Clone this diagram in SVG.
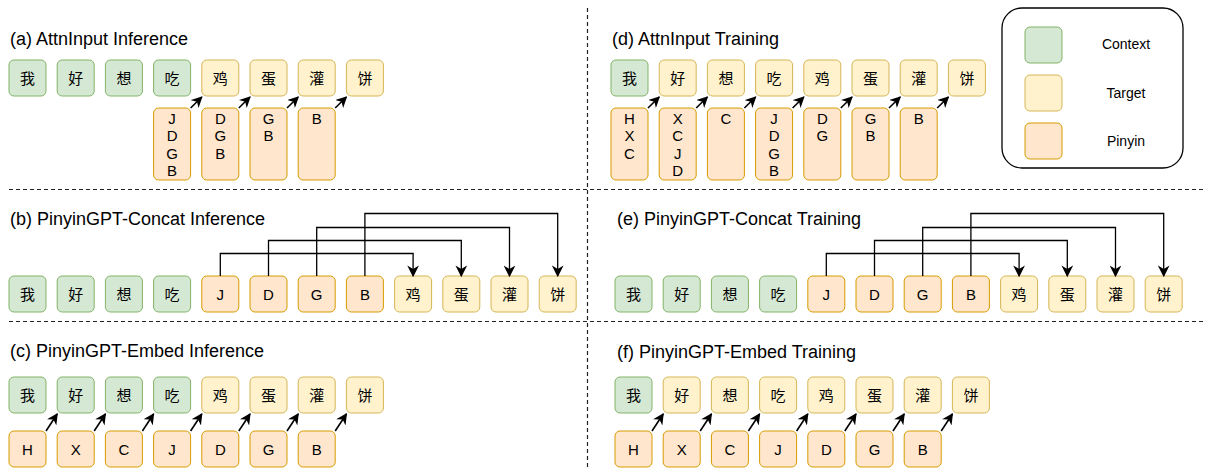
<svg xmlns="http://www.w3.org/2000/svg" width="1208" height="468" viewBox="0 0 1208 468">
  <style>
    .ctx { fill: #d5e8d4; stroke: #82b366; stroke-width: 1; }
    .tgt { fill: #fff2cc; stroke: #d6b656; stroke-width: 1; }
    .py  { fill: #ffe6cc; stroke: #d79b00; stroke-width: 1; }
    .zh  { font-family: "Noto Sans CJK SC", sans-serif; font-size: 15px; fill: #000; text-anchor: middle; }
    .lt  { font-family: "Liberation Sans", Arial, sans-serif; font-size: 15px; fill: #000; text-anchor: middle; }
    .title { font-family: "Liberation Sans", Arial, sans-serif; font-size: 18px; fill: #000; }
    .leg { font-family: "Liberation Sans", Arial, sans-serif; font-size: 14px; fill: #000; text-anchor: middle; }
    .sep { stroke: #222; stroke-width: 1.2; stroke-dasharray: 4 3; fill: none; }
    .arr { stroke: #000; stroke-width: 1.6; fill: none; marker-end: url(#head); }
    .link { stroke: #000; stroke-width: 1.3; fill: none; marker-end: url(#head2); }
  </style>
  <defs>
    <marker id="head" viewBox="0 0 10 10" refX="9" refY="5" markerWidth="7" markerHeight="7" orient="auto" markerUnits="strokeWidth">
      <path d="M0,0 L10,5 L0,10 L3,5 Z" fill="#000"/>
    </marker>
    <marker id="head2" viewBox="0 0 10 10" refX="9" refY="5" markerWidth="9" markerHeight="9" orient="auto" markerUnits="strokeWidth">
      <path d="M0,0 L10,5 L0,10 L3,5 Z" fill="#000"/>
    </marker>
  </defs>

  <rect width="1208" height="468" fill="#fff"/>

  <!-- section separators -->
  <g id="separators">
    <line class="sep" x1="587.5" y1="8" x2="587.5" y2="468"/>
    <line class="sep" x1="9" y1="189.5" x2="1205" y2="189.5"/>
    <line class="sep" x1="9" y1="321.5" x2="1205" y2="321.5"/>
  </g>

  <!-- legend -->
  <g id="legend">
    <rect x="1002" y="8" width="181" height="160" rx="20" fill="#fff" stroke="#000" stroke-width="1.3"/>
    <rect class="ctx" x="1025" y="27" width="37" height="36" rx="5"/>
    <rect class="tgt" x="1025" y="75" width="37" height="36" rx="5"/>
    <rect class="py" x="1025" y="123" width="37" height="36" rx="5"/>
    <text class="leg" x="1126" y="49">Context</text>
    <text class="leg" x="1126" y="98">Target</text>
    <text class="leg" x="1126" y="146">Pinyin</text>
  </g>

  <!-- (a) AttnInput Inference -->
  <g id="panel-a">
    <text class="title" x="10" y="45">(a) AttnInput Inference</text>
    <g id="a-ctx">
      <rect class="ctx" x="9" y="60" width="37" height="36" rx="5"/><text class="zh" x="27.5" y="83.5">我</text>
      <rect class="ctx" x="57.2" y="60" width="37" height="36" rx="5"/><text class="zh" x="75.7" y="83.5">好</text>
      <rect class="ctx" x="105.4" y="60" width="37" height="36" rx="5"/><text class="zh" x="123.9" y="83.5">想</text>
      <rect class="ctx" x="153.6" y="60" width="37" height="36" rx="5"/><text class="zh" x="172.1" y="83.5">吃</text>
    </g>
    <g id="a-tgt">
      <rect class="tgt" x="201.8" y="60" width="37" height="36" rx="5"/><text class="zh" x="220.3" y="83.5">鸡</text>
      <rect class="tgt" x="250" y="60" width="37" height="36" rx="5"/><text class="zh" x="268.5" y="83.5">蛋</text>
      <rect class="tgt" x="298.2" y="60" width="37" height="36" rx="5"/><text class="zh" x="316.7" y="83.5">灌</text>
      <rect class="tgt" x="346.4" y="60" width="37" height="36" rx="5"/><text class="zh" x="364.9" y="83.5">饼</text>
    </g>
    <g id="a-py">
      <rect class="py" x="153.6" y="108" width="37" height="72" rx="5"/>
      <text class="lt" x="172.1" y="124">J</text><text class="lt" x="172.1" y="141">D</text><text class="lt" x="172.1" y="159">G</text><text class="lt" x="172.1" y="176">B</text>
      <rect class="py" x="201.8" y="108" width="37" height="72" rx="5"/>
      <text class="lt" x="220.3" y="124">D</text><text class="lt" x="220.3" y="141">G</text><text class="lt" x="220.3" y="159">B</text>
      <rect class="py" x="250" y="108" width="37" height="72" rx="5"/>
      <text class="lt" x="268.5" y="124">G</text><text class="lt" x="268.5" y="141">B</text>
      <rect class="py" x="298.2" y="108" width="37" height="72" rx="5"/>
      <text class="lt" x="316.7" y="124">B</text>
    </g>
  </g>

  <!-- (d) AttnInput Training -->
  <g id="panel-d">
    <text class="title" x="612" y="45">(d) AttnInput Training</text>
    <rect class="ctx" x="611" y="60" width="37" height="36" rx="5"/><text class="zh" x="629.5" y="83.5">我</text>
    <rect class="tgt" x="659.2" y="60" width="37" height="36" rx="5"/><text class="zh" x="677.7" y="83.5">好</text>
    <rect class="tgt" x="707.4" y="60" width="37" height="36" rx="5"/><text class="zh" x="725.9" y="83.5">想</text>
    <rect class="tgt" x="755.6" y="60" width="37" height="36" rx="5"/><text class="zh" x="774.1" y="83.5">吃</text>
    <rect class="tgt" x="803.8" y="60" width="37" height="36" rx="5"/><text class="zh" x="822.3" y="83.5">鸡</text>
    <rect class="tgt" x="852" y="60" width="37" height="36" rx="5"/><text class="zh" x="870.5" y="83.5">蛋</text>
    <rect class="tgt" x="900.2" y="60" width="37" height="36" rx="5"/><text class="zh" x="918.7" y="83.5">灌</text>
    <rect class="tgt" x="948.4" y="60" width="37" height="36" rx="5"/><text class="zh" x="966.9" y="83.5">饼</text>

    <rect class="py" x="611" y="108" width="37" height="72" rx="5"/>
    <text class="lt" x="629.5" y="124">H</text><text class="lt" x="629.5" y="141">X</text><text class="lt" x="629.5" y="159">C</text>
    <rect class="py" x="659.2" y="108" width="37" height="72" rx="5"/>
    <text class="lt" x="677.7" y="124">X</text><text class="lt" x="677.7" y="141">C</text><text class="lt" x="677.7" y="159">J</text><text class="lt" x="677.7" y="176">D</text>
    <rect class="py" x="707.4" y="108" width="37" height="72" rx="5"/>
    <text class="lt" x="725.9" y="124">C</text>
    <rect class="py" x="755.6" y="108" width="37" height="72" rx="5"/>
    <text class="lt" x="774.1" y="124">J</text><text class="lt" x="774.1" y="141">D</text><text class="lt" x="774.1" y="159">G</text><text class="lt" x="774.1" y="176">B</text>
    <rect class="py" x="803.8" y="108" width="37" height="72" rx="5"/>
    <text class="lt" x="822.3" y="124">D</text><text class="lt" x="822.3" y="141">G</text>
    <rect class="py" x="852" y="108" width="37" height="72" rx="5"/>
    <text class="lt" x="870.5" y="124">G</text><text class="lt" x="870.5" y="141">B</text>
    <rect class="py" x="900.2" y="108" width="37" height="72" rx="5"/>
    <text class="lt" x="918.7" y="124">B</text>
  </g>

  <!-- (b) PinyinGPT-Concat Inference -->
  <g id="panel-b">
    <text class="title" x="10" y="225">(b) PinyinGPT-Concat Inference</text>
    <rect class="ctx" x="9" y="276" width="37" height="36" rx="5"/><text class="zh" x="27.5" y="299.5">我</text>
    <rect class="ctx" x="57.2" y="276" width="37" height="36" rx="5"/><text class="zh" x="75.7" y="299.5">好</text>
    <rect class="ctx" x="105.4" y="276" width="37" height="36" rx="5"/><text class="zh" x="123.9" y="299.5">想</text>
    <rect class="ctx" x="153.6" y="276" width="37" height="36" rx="5"/><text class="zh" x="172.1" y="299.5">吃</text>
    <rect class="py" x="201.8" y="276" width="37" height="36" rx="5"/><text class="lt" x="220.3" y="299.5">J</text>
    <rect class="py" x="250" y="276" width="37" height="36" rx="5"/><text class="lt" x="268.5" y="299.5">D</text>
    <rect class="py" x="298.2" y="276" width="37" height="36" rx="5"/><text class="lt" x="316.7" y="299.5">G</text>
    <rect class="py" x="346.4" y="276" width="37" height="36" rx="5"/><text class="lt" x="364.9" y="299.5">B</text>
    <rect class="tgt" x="394.6" y="276" width="37" height="36" rx="5"/><text class="zh" x="413.1" y="299.5">鸡</text>
    <rect class="tgt" x="442.8" y="276" width="37" height="36" rx="5"/><text class="zh" x="461.3" y="299.5">蛋</text>
    <rect class="tgt" x="491" y="276" width="37" height="36" rx="5"/><text class="zh" x="509.5" y="299.5">灌</text>
    <rect class="tgt" x="539.2" y="276" width="37" height="36" rx="5"/><text class="zh" x="557.7" y="299.5">饼</text>
  </g>

  <!-- (e) PinyinGPT-Concat Training -->
  <g id="panel-e">
    <text class="title" x="617" y="225">(e) PinyinGPT-Concat Training</text>
    <rect class="ctx" x="615" y="276" width="37" height="36" rx="5"/><text class="zh" x="633.5" y="299.5">我</text>
    <rect class="ctx" x="663.2" y="276" width="37" height="36" rx="5"/><text class="zh" x="681.7" y="299.5">好</text>
    <rect class="ctx" x="711.4" y="276" width="37" height="36" rx="5"/><text class="zh" x="729.9" y="299.5">想</text>
    <rect class="ctx" x="759.6" y="276" width="37" height="36" rx="5"/><text class="zh" x="778.1" y="299.5">吃</text>
    <rect class="py" x="807.8" y="276" width="37" height="36" rx="5"/><text class="lt" x="826.3" y="299.5">J</text>
    <rect class="py" x="856" y="276" width="37" height="36" rx="5"/><text class="lt" x="874.5" y="299.5">D</text>
    <rect class="py" x="904.2" y="276" width="37" height="36" rx="5"/><text class="lt" x="922.7" y="299.5">G</text>
    <rect class="py" x="952.4" y="276" width="37" height="36" rx="5"/><text class="lt" x="970.9" y="299.5">B</text>
    <rect class="tgt" x="1000.6" y="276" width="37" height="36" rx="5"/><text class="zh" x="1019.1" y="299.5">鸡</text>
    <rect class="tgt" x="1048.8" y="276" width="37" height="36" rx="5"/><text class="zh" x="1067.3" y="299.5">蛋</text>
    <rect class="tgt" x="1097" y="276" width="37" height="36" rx="5"/><text class="zh" x="1115.5" y="299.5">灌</text>
    <rect class="tgt" x="1145.2" y="276" width="37" height="36" rx="5"/><text class="zh" x="1163.7" y="299.5">饼</text>
  </g>

  <!-- (c) PinyinGPT-Embed Inference -->
  <g id="panel-c">
    <text class="title" x="10" y="357">(c) PinyinGPT-Embed Inference</text>
    <rect class="ctx" x="9" y="377" width="37" height="36" rx="5"/><text class="zh" x="27.5" y="400.5">我</text>
    <rect class="ctx" x="57.2" y="377" width="37" height="36" rx="5"/><text class="zh" x="75.7" y="400.5">好</text>
    <rect class="ctx" x="105.4" y="377" width="37" height="36" rx="5"/><text class="zh" x="123.9" y="400.5">想</text>
    <rect class="ctx" x="153.6" y="377" width="37" height="36" rx="5"/><text class="zh" x="172.1" y="400.5">吃</text>
    <rect class="tgt" x="201.8" y="377" width="37" height="36" rx="5"/><text class="zh" x="220.3" y="400.5">鸡</text>
    <rect class="tgt" x="250" y="377" width="37" height="36" rx="5"/><text class="zh" x="268.5" y="400.5">蛋</text>
    <rect class="tgt" x="298.2" y="377" width="37" height="36" rx="5"/><text class="zh" x="316.7" y="400.5">灌</text>
    <rect class="tgt" x="346.4" y="377" width="37" height="36" rx="5"/><text class="zh" x="364.9" y="400.5">饼</text>
    <rect class="py" x="9" y="431" width="37" height="36" rx="5"/><text class="lt" x="27.5" y="454.5">H</text>
    <rect class="py" x="57.2" y="431" width="37" height="36" rx="5"/><text class="lt" x="75.7" y="454.5">X</text>
    <rect class="py" x="105.4" y="431" width="37" height="36" rx="5"/><text class="lt" x="123.9" y="454.5">C</text>
    <rect class="py" x="153.6" y="431" width="37" height="36" rx="5"/><text class="lt" x="172.1" y="454.5">J</text>
    <rect class="py" x="201.8" y="431" width="37" height="36" rx="5"/><text class="lt" x="220.3" y="454.5">D</text>
    <rect class="py" x="250" y="431" width="37" height="36" rx="5"/><text class="lt" x="268.5" y="454.5">G</text>
    <rect class="py" x="298.2" y="431" width="37" height="36" rx="5"/><text class="lt" x="316.7" y="454.5">B</text>
  </g>

  <!-- (f) PinyinGPT-Embed Training -->
  <g id="panel-f">
    <text class="title" x="617" y="358">(f) PinyinGPT-Embed Training</text>
    <rect class="ctx" x="615" y="377" width="37" height="36" rx="5"/><text class="zh" x="633.5" y="400.5">我</text>
    <rect class="tgt" x="663.2" y="377" width="37" height="36" rx="5"/><text class="zh" x="681.7" y="400.5">好</text>
    <rect class="tgt" x="711.4" y="377" width="37" height="36" rx="5"/><text class="zh" x="729.9" y="400.5">想</text>
    <rect class="tgt" x="759.6" y="377" width="37" height="36" rx="5"/><text class="zh" x="778.1" y="400.5">吃</text>
    <rect class="tgt" x="807.8" y="377" width="37" height="36" rx="5"/><text class="zh" x="826.3" y="400.5">鸡</text>
    <rect class="tgt" x="856" y="377" width="37" height="36" rx="5"/><text class="zh" x="874.5" y="400.5">蛋</text>
    <rect class="tgt" x="904.2" y="377" width="37" height="36" rx="5"/><text class="zh" x="922.7" y="400.5">灌</text>
    <rect class="tgt" x="952.4" y="377" width="37" height="36" rx="5"/><text class="zh" x="970.9" y="400.5">饼</text>
    <rect class="py" x="615" y="431" width="37" height="36" rx="5"/><text class="lt" x="633.5" y="454.5">H</text>
    <rect class="py" x="663.2" y="431" width="37" height="36" rx="5"/><text class="lt" x="681.7" y="454.5">X</text>
    <rect class="py" x="711.4" y="431" width="37" height="36" rx="5"/><text class="lt" x="729.9" y="454.5">C</text>
    <rect class="py" x="759.6" y="431" width="37" height="36" rx="5"/><text class="lt" x="778.1" y="454.5">J</text>
    <rect class="py" x="807.8" y="431" width="37" height="36" rx="5"/><text class="lt" x="826.3" y="454.5">D</text>
    <rect class="py" x="856" y="431" width="37" height="36" rx="5"/><text class="lt" x="874.5" y="454.5">G</text>
    <rect class="py" x="904.2" y="431" width="37" height="36" rx="5"/><text class="lt" x="922.7" y="454.5">B</text>
  </g>

  <!-- connectors -->
  <g id="connectors">
    <!-- (a) pinyin column -> next target -->
    <line class="arr" x1="190.6" y1="108" x2="201.8" y2="97"/>
    <line class="arr" x1="238.8" y1="108" x2="250" y2="97"/>
    <line class="arr" x1="287" y1="108" x2="298.2" y2="97"/>
    <line class="arr" x1="335.2" y1="108" x2="346.4" y2="97"/>
    <!-- (d) -->
    <line class="arr" x1="648" y1="108" x2="659.2" y2="97"/>
    <line class="arr" x1="696.2" y1="108" x2="707.4" y2="97"/>
    <line class="arr" x1="744.4" y1="108" x2="755.6" y2="97"/>
    <line class="arr" x1="792.6" y1="108" x2="803.8" y2="97"/>
    <line class="arr" x1="840.8" y1="108" x2="852" y2="97"/>
    <line class="arr" x1="889" y1="108" x2="900.2" y2="97"/>
    <line class="arr" x1="937.2" y1="108" x2="948.4" y2="97"/>
    <!-- (b) pinyin -> target routing -->
    <polyline class="link" points="220.3,276 220.3,253.5 413.1,253.5 413.1,276"/>
    <polyline class="link" points="268.5,276 268.5,240.5 461.3,240.5 461.3,276"/>
    <polyline class="link" points="316.7,276 316.7,227.5 509.5,227.5 509.5,276"/>
    <polyline class="link" points="364.9,276 364.9,213.5 557.7,213.5 557.7,276"/>
    <!-- (e) -->
    <polyline class="link" points="826.3,276 826.3,253.5 1019.1,253.5 1019.1,276"/>
    <polyline class="link" points="874.5,276 874.5,240.5 1067.3,240.5 1067.3,276"/>
    <polyline class="link" points="922.7,276 922.7,227.5 1115.5,227.5 1115.5,276"/>
    <polyline class="link" points="970.9,276 970.9,213.5 1163.7,213.5 1163.7,276"/>
    <!-- (c) pinyin -> next token -->
    <line class="arr" x1="46" y1="431" x2="57.2" y2="414"/>
    <line class="arr" x1="94.2" y1="431" x2="105.4" y2="414"/>
    <line class="arr" x1="142.4" y1="431" x2="153.6" y2="414"/>
    <line class="arr" x1="190.6" y1="431" x2="201.8" y2="414"/>
    <line class="arr" x1="238.8" y1="431" x2="250" y2="414"/>
    <line class="arr" x1="287" y1="431" x2="298.2" y2="414"/>
    <line class="arr" x1="335.2" y1="431" x2="346.4" y2="414"/>
    <!-- (f) -->
    <line class="arr" x1="652" y1="431" x2="663.2" y2="414"/>
    <line class="arr" x1="700.2" y1="431" x2="711.4" y2="414"/>
    <line class="arr" x1="748.4" y1="431" x2="759.6" y2="414"/>
    <line class="arr" x1="796.6" y1="431" x2="807.8" y2="414"/>
    <line class="arr" x1="844.8" y1="431" x2="856" y2="414"/>
    <line class="arr" x1="893" y1="431" x2="904.2" y2="414"/>
    <line class="arr" x1="941.2" y1="431" x2="952.4" y2="414"/>
  </g>
</svg>
